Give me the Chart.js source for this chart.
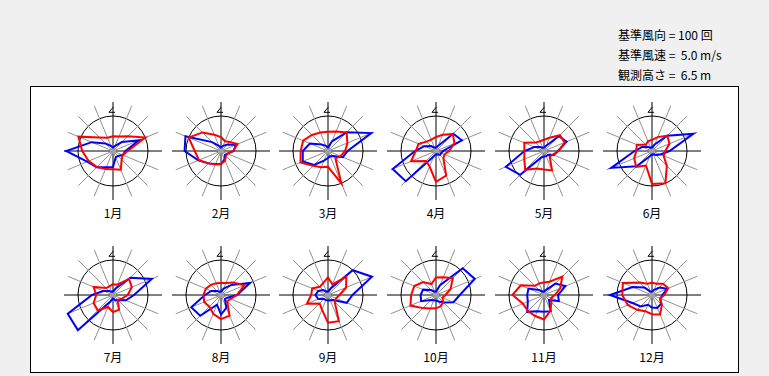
<!DOCTYPE html>
<html><head><meta charset="utf-8">
<script src="https://cdn.jsdelivr.net/npm/chart.js@4"></script>
<style>
html,body{margin:0;padding:0;background:#f0f0f0;width:769px;height:376px;overflow:hidden;font-family:"Noto Sans CJK JP","Noto Sans",sans-serif;}
#box{position:absolute;left:30px;top:86px;width:709px;height:287px;border:1px solid #000;background:#fff;box-sizing:border-box;}
.info{position:absolute;left:618px;font-size:12px;line-height:16px;white-space:pre;color:#000;}
canvas{position:absolute;}
.mlab{position:absolute;width:60px;text-align:center;font-size:12px;line-height:18px;color:#000;}
</style>
</head><body>
<div id="box"></div>
<div class="info" style="top:27px">基準風向 = 100 回</div>
<div class="info" style="top:47px">基準風速 =  5.0 m/s</div>
<div class="info" style="top:67px">観測高さ =  6.5 m</div>
<div id="wrap"></div>
<script>
const REF_FREQ = 100;   // 基準風向 (回)
const REF_SPEED = 5.0;  // 基準風速 (m/s)
const directions = ['N','NNE','NE','ENE','E','ESE','SE','SSE','S','SSW','SW','WSW','W','WNW','NW','NNW'];
const months = ['1月','2月','3月','4月','5月','6月','7月','8月','9月','10月','11月','12月'];

// 風向頻度 (回)
const freqJan = [42,45,60,100,42,30,35,58,52,56,65,75,88,107,55,41];
const freqFeb = [40,30,36,51,35,20,20,30,37,42,50,68,75,100,75,50];
const freqMar = [55,60,75,60,49,39,30,100,45,50,60,85,78,77,65,57];
const freqApr = [40,50,68,57,37,26,30,76,88,48,40,77,58,54,38,35];
const freqMay = [32,41,64,64,42,27,23,60,53,54,76,61,56,61,34,30];
const freqJun = [32,43,62,54,38,36,60,100,94,45,64,55,45,47,25,30];
const freqJul = [31,32,65,58,42,27,19,45,49,37,62,60,48,60,28,27];
const freqAug = [34,37,50,72,45,30,25,64,69,58,47,52,50,47,41,36];
const freqSep = [50,33,74,56,33,25,27,81,79,45,34,65,48,49,33,37];
const freqOct = [50,55,68,45,27,20,29,35,38,42,53,79,71,67,52,34];
const freqNov = [36,41,74,50,31,22,30,48,70,65,65,65,90,72,37,36];
const freqDec = [35,35,45,50,35,25,40,60,55,50,60,75,85,90,50,35];

// 平均風速 (m/s)
const speedJan = [0.5,0.8,1.8,4.0,1.8,1.5,1.0,1.0,2.3,2.5,3.3,4.0,6.7,3.3,1.5,0.8];
const speedFeb = [0.5,0.8,1.3,2.3,1.8,1.0,0.8,1.3,1.9,2.0,2.5,3.5,5.2,5.5,1.8,0.8];
const speedMar = [0.5,1.5,3.8,6.7,2.8,2.3,1.0,0.8,1.0,1.5,2.8,3.9,3.6,2.8,1.3,0.8];
const speedApr = [0.5,0.8,3.5,4.0,1.0,0.8,0.8,0.5,0.5,0.8,6.1,6.7,3.0,1.8,1.0,0.5];
const speedMay = [0.5,0.8,3.0,3.5,2.0,1.5,0.8,0.8,0.8,1.0,4.8,5.9,2.8,1.5,0.8,0.5];
const speedJun = [0.5,1.0,3.1,6.4,2.5,1.3,0.8,0.5,0.5,0.8,3.1,6.3,2.5,1.5,0.8,0.5];
const speedJul = [0.5,1.0,3.5,6.0,3.0,2.0,1.0,0.8,0.5,1.0,7.1,7.0,3.0,1.5,0.8,0.5];
const speedAug = [0.5,1.0,2.0,4.5,2.3,1.0,0.8,2.0,2.8,1.5,4.2,4.6,2.3,1.5,0.8,0.5];
const speedSep = [0.5,1.0,5.0,6.8,3.5,2.9,1.0,0.8,0.8,0.8,0.8,1.5,1.8,1.5,1.0,0.5];
const speedOct = [0.5,1.5,5.4,6.0,3.4,2.7,1.5,1.0,0.8,0.8,1.0,2.3,2.2,2.0,1.0,0.5];
const speedNov = [0.5,0.8,2.3,3.3,2.0,2.3,1.0,2.5,2.4,2.5,3.4,2.5,2.4,2.4,1.0,0.5];
const speedDec = [0.5,0.8,1.5,2.3,1.5,1.3,1.8,2.0,1.8,1.5,2.3,3.0,6.0,3.0,1.5,0.5];

const freqs = [freqJan,freqFeb,freqMar,freqApr,freqMay,freqJun,freqJul,freqAug,freqSep,freqOct,freqNov,freqDec];
const speeds = [speedJan,speedFeb,speedMar,speedApr,speedMay,speedJun,speedJul,speedAug,speedSep,speedOct,speedNov,speedDec];

const colX = [113,221,328,436,544,652];
const rowY = [151,295];
const SIZE = 98, HALF = 49, REF_R = 35;

const roseDecor = {
  id: 'roseDecor',
  beforeDatasetsDraw(chart) {
    const s = chart.scales.r, ctx = chart.ctx;
    const cx = s.xCenter, cy = s.yCenter, R = s.drawingArea;
    ctx.save();
    ctx.fillStyle = '#a0a0a0';
    ctx.beginPath(); ctx.arc(cx, cy, 3, 0, Math.PI * 2); ctx.fill();
    ctx.strokeStyle = '#000'; ctx.lineWidth = 1;
    ctx.beginPath();
    ctx.moveTo(cx + 0.5, cy - R * 0.9);
    ctx.lineTo(cx - 4, cy - R * 0.8 + 0.5);
    ctx.lineTo(cx + 2, cy - R * 0.8 + 0.5);
    ctx.stroke();
    ctx.restore();
  }
};

const wrap = document.getElementById('wrap');
months.forEach((m, i) => {
  const cx = colX[i % 6], cy = rowY[Math.floor(i / 6)];
  const cv = document.createElement('canvas');
  cv.width = SIZE; cv.height = SIZE;
  cv.style.left = (cx - HALF) + 'px'; cv.style.top = (cy - HALF) + 'px';
  cv.style.width = SIZE + 'px'; cv.style.height = SIZE + 'px';
  wrap.appendChild(cv);
  const lab = document.createElement('div');
  lab.className = 'mlab'; lab.textContent = m;
  lab.style.left = (cx - 30) + 'px'; lab.style.top = (cy + 53) + 'px';
  wrap.appendChild(lab);

  new Chart(cv, {
    type: 'radar',
    data: {
      labels: directions,
      datasets: [
        { label: '風向頻度', data: freqs[i].map(v => v / REF_FREQ), borderColor: '#ff0000', borderWidth: 2, fill: false, pointRadius: 0, tension: 0 },
        { label: '平均風速', data: speeds[i].map(v => v / REF_SPEED), borderColor: '#0000ff', borderWidth: 2, fill: false, pointRadius: 0, tension: 0 }
      ]
    },
    options: {
      responsive: false, animation: false, devicePixelRatio: 1, events: [],
      layout: { padding: 0 },
      plugins: { legend: { display: false }, tooltip: { enabled: false }, title: { display: false } },
      elements: { line: { borderJoinStyle: 'miter' } },
      scales: {
        r: {
          min: 0, max: HALF / REF_R,
          afterBuildTicks: (sc) => { sc.ticks = [{ value: 0 }, { value: 1 }]; },
          ticks: { display: false },
          pointLabels: { display: false },
          grid: { circular: true, color: '#000', lineWidth: 1 },
          angleLines: { color: (c) => (c.index % 4 === 0 ? '#000' : '#909090'), lineWidth: 1 }
        }
      }
    },
    plugins: [roseDecor]
  });
});
</script>
</body></html>
